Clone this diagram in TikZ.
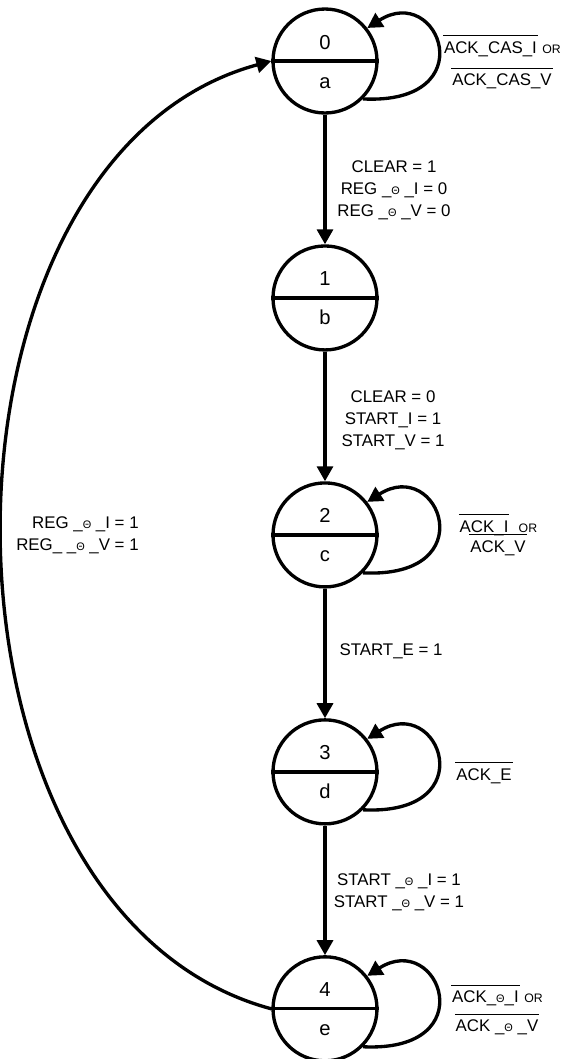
\documentclass[tikz,border=0pt]{standalone}
\usepackage{fontspec}
\setmainfont{Liberation Sans}
\usepackage{tikz}
\usetikzlibrary{positioning}
\usetikzlibrary{arrows.meta}
\tikzstyle{state} = [circle, minimum size=2.08cm, inner sep=0pt, draw=black, line width=1.9pt]
\tikzstyle{statelbl} = [inner sep=0pt, anchor=base, font=\fontsize{11.5}{12}\selectfont]
\tikzstyle{lbl} = [inner sep=0pt, align=center, font=\fontsize{9.6}{12.5}\selectfont]
\tikzstyle{arrow} = [line width=1.9pt,-{Triangle[length=0.3cm,width=0.32cm]}]
\newcommand{\nbar}[1]{\vbox{\hrule height 0.6pt\kern 3pt\hbox{\kern0.5pt#1\kern0.5pt}}}
\newcommand{\thet}{{\fontsize{6.2}{6}\selectfont Θ}}
\newcommand{\orw}{{\fontsize{7}{8}\selectfont OR}}

\begin{document}
\begin{tikzpicture}[x=0.02cm, y=-0.02cm, node distance=4.74cm]
\useasboundingbox (0,0) rectangle (565,1059);
% states
\node (s0) [state] at (325,61) {};
\node (s1) [state, below of=s0] {};
\node (s2) [state, below of=s1] {};
\node (s3) [state, below of=s2] {};
\node (s4) [state, below of=s3] {};
\draw [line width=1.9pt] (s0.west) -- (s0.east);
\draw [line width=1.9pt] (s1.west) -- (s1.east);
\draw [line width=1.9pt] (s2.west) -- (s2.east);
\draw [line width=1.9pt] (s3.west) -- (s3.east);
\draw [line width=1.9pt] (s4.west) -- (s4.east);
\node (n0) [statelbl] at ([yshift=0.24cm]s0.center) {0};
\node (m0) [statelbl] at ([yshift=-0.54cm]s0.center) {a};
\node (n1) [statelbl] at ([yshift=0.24cm]s1.center) {1};
\node (m1) [statelbl] at ([yshift=-0.54cm]s1.center) {b};
\node (n2) [statelbl] at ([yshift=0.24cm]s2.center) {2};
\node (m2) [statelbl] at ([yshift=-0.54cm]s2.center) {c};
\node (n3) [statelbl] at ([yshift=0.24cm]s3.center) {3};
\node (m3) [statelbl] at ([yshift=-0.54cm]s3.center) {d};
\node (n4) [statelbl] at ([yshift=0.24cm]s4.center) {4};
\node (m4) [statelbl] at ([yshift=-0.54cm]s4.center) {e};
% transitions
\draw [arrow] (s0) -- (s1);
\draw [arrow] (s1) -- (s2);
\draw [arrow] (s2) -- (s3);
\draw [arrow] (s3) -- (s4);
\draw [arrow] (s4.west) .. controls (-88,912) and (-88,158) .. (s0.west);
% self loops
\draw [arrow] (s0.-45) .. controls +(122,6) and +(72,-46) .. (s0.38);
\draw [arrow] (s2.-45) .. controls +(122,6) and +(72,-46) .. (s2.38);
\draw [arrow] (s3.-45) .. controls +(122,6) and +(72,-46) .. (s3.38);
\draw [arrow] (s4.-45) .. controls +(122,6) and +(72,-46) .. (s4.38);
% labels
\node (l01) [lbl] at (394,190) {CLEAR = 1\\REG \_\thet{} \_I = 0\\REG \_\thet{} \_V = 0};
\node (l12) [lbl] at (393,420) {CLEAR = 0\\START\_I = 1\\START\_V = 1};
\node (l23) [lbl] at (391,651) {START\_E = 1};
\node (l34) [lbl] at (399,892) {START \_\thet{} \_I = 1\\START \_\thet{} \_V = 1};
\node (l40) [lbl, align=right, anchor=east] at (139,535) {REG \_\thet{} \_I = 1\\REG\_ \_\thet{} \_V = 1};
\node (k0) [lbl] at (502,62) {\nbar{ACK\_CAS\_I} \orw\\[6pt]\nbar{ACK\_CAS\_V}};
\node (k2) [lbl] at (498,535) {\nbar{ACK\_I} \ \orw\\[-1pt]\nbar{ACK\_V}};
\node (k3) [lbl] at (484,773) {\nbar{ACK\_E}};
\node (k4) [lbl] at (497,1010) {\nbar{ACK\_\thet\_I} \orw\\[4pt]\nbar{ACK \_\thet{} \_V}};
\end{tikzpicture}
\end{document}
